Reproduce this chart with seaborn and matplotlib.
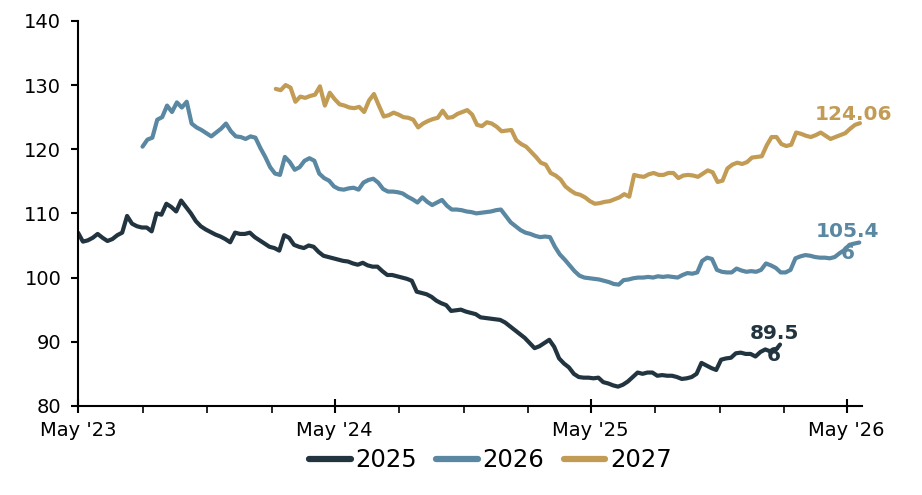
import pandas as pd
import numpy as np
import matplotlib.pyplot as plt
import matplotlib.dates as mdates
import seaborn as sns
from matplotlib.lines import Line2D

# Data ........................................................................

series_names = ["2025", "2026", "2027"]
start_dates = ["2023-05-01", "2023-08-01", "2024-02-07"]

# weekly readings
values_2025 = [
    107.0, 105.6, 105.8, 106.2, 106.8, 106.2, 105.7, 106.0, 106.6, 107.0,
    109.6, 108.4, 108.0, 107.8, 107.8, 107.2, 110.0, 109.8, 111.5, 111.0,
    110.3, 112.0, 111.0, 110.0, 108.8, 108.0, 107.5, 107.1, 106.7, 106.4,
    106.0, 105.5, 107.0, 106.8, 106.8, 107.0, 106.3, 105.8, 105.3, 104.8,
    104.6, 104.2, 106.6, 106.2, 105.1, 104.8, 104.6, 105.0, 104.8, 104.0,
    103.4, 103.2, 103.0, 102.8, 102.6, 102.5, 102.2, 102.0, 102.3, 101.9,
    101.7, 101.7, 101.0, 100.4, 100.4, 100.2, 100.0, 99.8, 99.5, 97.8,
    97.6, 97.4, 97.0, 96.4, 96.0, 95.7, 94.8, 94.9, 95.0, 94.7,
    94.5, 94.3, 93.8, 93.7, 93.6, 93.5, 93.4, 93.0, 92.4, 91.8,
    91.2, 90.6, 89.8, 89.0, 89.3, 89.8, 90.3, 89.2, 87.4, 86.6,
    86.0, 85.0, 84.5, 84.4, 84.4, 84.3, 84.4, 83.7, 83.5, 83.2,
    83.0, 83.3, 83.8, 84.5, 85.2, 85.0, 85.2, 85.2, 84.7, 84.8,
    84.7, 84.7, 84.5, 84.2, 84.3, 84.5, 85.0, 86.7, 86.3, 85.9,
    85.6, 87.2, 87.4, 87.5, 88.2, 88.3, 88.1, 88.1, 87.7, 88.4,
    88.8, 88.5, 88.6, 89.56,
]

values_2026 = [
    120.4, 121.5, 121.8, 124.6, 125.0, 126.8, 125.8, 127.3, 126.5, 127.4,
    124.0, 123.4, 123.0, 122.5, 122.0, 122.6, 123.2, 124.0, 122.8, 122.0,
    121.9, 121.6, 122.0, 121.8, 120.2, 118.8, 117.2, 116.2, 116.0, 118.8,
    118.0, 116.8, 117.2, 118.2, 118.6, 118.2, 116.2, 115.5, 115.1, 114.2,
    113.8, 113.7, 113.9, 114.0, 113.7, 114.8, 115.2, 115.4, 114.8, 113.8,
    113.4, 113.4, 113.3, 113.1, 112.6, 112.2, 111.7, 112.5, 111.8, 111.3,
    111.7, 112.1, 111.2, 110.6, 110.6, 110.5, 110.3, 110.2, 110.0, 110.1,
    110.2, 110.3, 110.5, 110.6, 109.6, 108.6, 108.0, 107.4, 107.0, 106.8,
    106.5, 106.3, 106.4, 106.3, 104.8, 103.6, 102.8, 101.9, 101.0, 100.3,
    100.0, 99.9, 99.8, 99.7, 99.5, 99.3, 99.0, 98.9, 99.6, 99.7,
    99.9, 100.0, 100.0, 100.1, 100.0, 100.2, 100.1, 100.2, 100.1, 100.0,
    100.4, 100.7, 100.6, 100.8, 102.6, 103.1, 102.9, 101.2, 100.9, 100.8,
    100.8, 101.4, 101.1, 100.9, 101.0, 100.9, 101.2, 102.2, 101.9, 101.5,
    100.8, 100.8, 101.2, 103.0, 103.3, 103.5, 103.4, 103.2, 103.1, 103.1,
    103.0, 103.2, 103.8, 104.3, 105.1, 105.3, 105.46,
]

values_2027 = [
    129.4, 129.2, 130.0, 129.6, 127.4, 128.2, 128.0, 128.3, 128.5, 129.8,
    126.8, 128.8, 127.8, 127.0, 126.8, 126.5, 126.4, 126.6, 125.8, 127.6,
    128.6, 126.8, 125.1, 125.3, 125.7, 125.4, 125.0, 124.9, 124.6, 123.4,
    124.0, 124.4, 124.7, 124.9, 126.0, 124.9, 125.0, 125.5, 125.8, 126.1,
    125.4, 123.8, 123.6, 124.2, 124.0, 123.5, 122.8, 122.9, 123.0, 121.4,
    120.8, 120.4, 119.6, 118.8, 117.9, 117.6, 116.3, 115.9, 115.3, 114.2,
    113.6, 113.1, 112.9, 112.5, 111.9, 111.5, 111.6, 111.8, 111.9, 112.2,
    112.5, 113.0, 112.6, 116.0, 115.8, 115.7, 116.1, 116.3, 116.0, 116.0,
    116.3, 116.3, 115.5, 115.9, 116.0, 115.9, 115.7, 116.2, 116.7, 116.4,
    114.9, 115.1, 117.0, 117.6, 117.9, 117.7, 118.0, 118.7, 118.8, 118.9,
    120.6, 121.9, 121.9, 120.8, 120.5, 120.7, 122.6, 122.4, 122.1, 121.9,
    122.2, 122.6, 122.1, 121.6, 121.9, 122.2, 122.5, 123.2, 123.8, 124.06,
]

end_labels = ["89.5\n6", "105.4\n6", "124.06"]
colors = ["#21343f", "#5a87a1", "#c29b55"]

yticks = [80, 90, 100, 110, 120, 130, 140]

# Build long table ............................................................

all_values = [values_2025, values_2026, values_2027]
frames = []
for name, start, vals in zip(series_names, start_dates, all_values):
    dates = pd.date_range(start, periods=len(vals), freq="7D")
    frames.append(pd.DataFrame({"date": dates, "value": vals, "series": name}))
df = pd.concat(frames, ignore_index=True)

# Plot ........................................................................

sns.set_style("white")
plt.rcParams["font.family"] = ["DejaVu Sans"]

fig = plt.figure(figsize=(9.22, 4.95), dpi=100)
ax = fig.add_axes([0.0846, 0.18, 0.8504, 0.7778])

palette = dict(zip(series_names, colors))
sns.lineplot(data=df, x="date", y="value", hue="series", palette=palette,
             estimator=None, linewidth=3, legend=False, ax=ax)

# end labels
offsets = [(-6, 0), (-12, 0), (-7, 9)]
for name, lab, col, off in zip(series_names, end_labels, colors, offsets):
    sub = df[df["series"] == name]
    ax.annotate(lab, xy=(sub["date"].iloc[-1], sub["value"].iloc[-1]),
                xytext=off, textcoords="offset pixels", ha="center", va="center",
                fontsize=14.5, fontweight="bold", color=col, linespacing=1.15,
                annotation_clip=False)

# axes
ax.set_ylim(80, 140)
ax.set_yticks(yticks)
ax.set_xlim(pd.Timestamp("2023-05-01"), pd.Timestamp("2026-05-23"))
ax.xaxis.set_major_locator(mdates.MonthLocator(bymonth=5))
ax.xaxis.set_major_formatter(mdates.DateFormatter("%b '%y"))
ax.xaxis.set_minor_locator(mdates.MonthLocator(bymonth=[2, 8, 11]))
ax.set_xlabel("")
ax.set_ylabel("")

for s in ["top", "right"]:
    ax.spines[s].set_visible(False)
for s in ["left", "bottom"]:
    ax.spines[s].set_linewidth(1.5)
    ax.spines[s].set_color("black")

ax.tick_params(axis="y", which="major", direction="out", length=5, width=1.5,
               labelsize=14, pad=7, left=True, colors="black")
ax.tick_params(axis="x", which="major", direction="inout", length=10, width=1.5,
               labelsize=14, pad=6, bottom=True, colors="black")
ax.tick_params(axis="x", which="minor", direction="out", length=5, width=1.2,
               bottom=True, colors="black")
ax.grid(False)

# legend
handles = [Line2D([0], [0], color=c, lw=4.5, solid_capstyle="round") for c in colors]
fig.legend(handles, series_names, loc="center", bbox_to_anchor=(0.532, 0.07), ncol=3,
           frameon=False, fontsize=17.5, handlelength=1.7, handletextpad=0.2,
           columnspacing=0.8, labelcolor="black")

fig.savefig("out.png", dpi=100)
